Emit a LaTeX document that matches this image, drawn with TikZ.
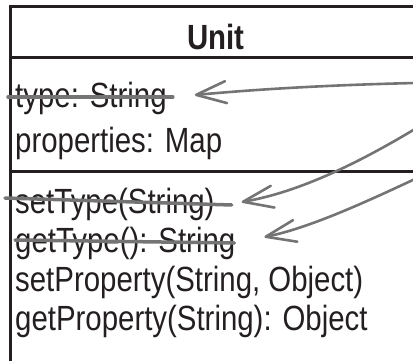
\documentclass[tikz,border=0pt]{standalone}
\usepackage{fontspec}
\setmainfont{Liberation Sans}[FakeStretch=0.84]
\usetikzlibrary{arrows.meta}
\definecolor{umlink}{HTML}{231F20}
\definecolor{pen}{HTML}{747474}

\begin{document}
\begin{tikzpicture}[x=1pt,y=-1pt,>={Straight Barb[length=30pt,width=22pt,round]},
    classline/.style={line width=3pt,draw=umlink},
    member/.style={anchor=base west,inner sep=0pt,text=umlink,font=\fontsize{35}{40}\selectfont},
    struck/.style={line width=3.5pt,draw=pen,line cap=round},
    remark/.style={line width=2.6pt,draw=pen,line cap=round,->}]
		\clip (0,0) rectangle (413,361);
		% class box, cut off at the right and bottom
		\draw[classline] (420,6.5) -- (10.5,6.5) -- (10.5,370);
		\draw[classline] (10.5,57.5) -- (420,57.5);
		\draw[classline] (10.5,172) -- (420,172);
		\node[inner sep=0pt,text=umlink,font=\bfseries\fontsize{35}{40}\selectfont] (unit) at (216,37) {Unit};
		\node[member] (type) at (15,108) {type: String};
		\node[member] (props) at (15,153) {properties: Map};
		\node[member] (settype) at (15,213) {setType(String)};
		\node[member] (gettype) at (15,252) {getType(): String};
		\node[member] (setprop) at (15,291) {setProperty(String, Object)};
		\node[member] (getprop) at (15,330) {getProperty(String): Object};
		% strike-outs
		\draw[struck] ([xshift=-7pt,yshift=11pt]type.base west) -- ([xshift=6pt,yshift=11pt]type.base east);
		\draw[struck] ([xshift=-10pt,yshift=15pt]settype.base west) -- ([xshift=17pt,yshift=8pt]settype.base east);
		\draw[struck] ([yshift=12pt]gettype.base west) -- ([xshift=-1pt,yshift=9pt]gettype.base east);
		% hand-drawn pointers
		\coordinate (from1) at (415,83);
		\coordinate (from2) at (415,129);
		\coordinate (from3) at (415,179);
		\draw[remark] (from1) .. controls (330,85) and (260,89) .. ([xshift=28pt,yshift=13pt]type.base east);
		\draw[remark] (from2) .. controls (360,162) and (300,192) .. ([xshift=27pt,yshift=11pt]settype.base east);
		\draw[remark] (from3) .. controls (370,200) and (310,228) .. ([xshift=29pt,yshift=15pt]gettype.base east);
	\end{tikzpicture}
\end{document}
